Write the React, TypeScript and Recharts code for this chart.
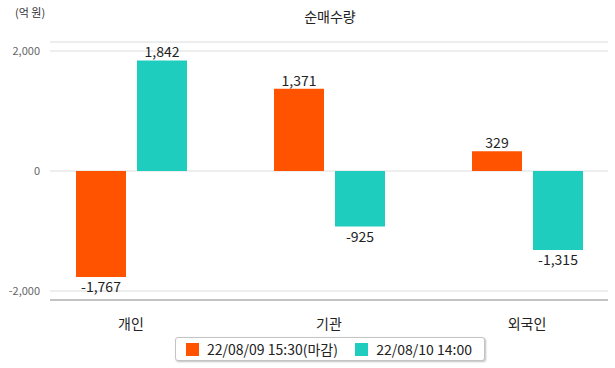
import { Bar, BarChart, CartesianGrid, LabelList, Legend, XAxis, YAxis } from "recharts";

const categories = ["개인", "기관", "외국인"];
const closeValues = [-1767, 1371, 329];
const liveValues = [1842, -925, -1315];
const seriesNames = ["22/08/09 15:30(마감)", "22/08/10 14:00"];
const yTicks = [-2000, 0, 2000];

const ORANGE = "#FF5300";
const TEAL = "#1ECDBD";
const FONT = "'Noto Sans CJK KR', 'Noto Sans', sans-serif";

const data = categories.map((name, i) => ({
  name,
  close: closeValues[i],
  live: liveValues[i],
}));

const fmt = (v: number) => v.toLocaleString("en-US");

function ValueLabel(props: any) {
  const { x, y, width, height, value } = props;
  const top = Math.min(y, y + height);
  const bottom = Math.max(y, y + height);
  const cx = x + width / 2;
  const ty = value >= 0 ? top - 3 : bottom + 15;
  return (
    <text x={cx} y={ty} textAnchor="middle" fontSize={14} fill="#222" fontFamily={FONT}>
      {fmt(value)}
    </text>
  );
}

function LegendBox() {
  const colors = [ORANGE, TEAL];
  return (
    <div
      style={{
        display: "flex",
        alignItems: "center",
        justifyContent: "space-between",
        width: 310,
        height: 24,
        boxSizing: "border-box",
        border: "1px solid #c4c4c4",
        borderRadius: 3,
        boxShadow: "1px 1px 2px rgba(0,0,0,0.25)",
        padding: "0 12px 0 10px",
        fontFamily: FONT,
        fontSize: 14,
        color: "#222",
        background: "#fff",
        whiteSpace: "nowrap",
      }}
    >
      {seriesNames.map((n, i) => (
        <div key={n} style={{ display: "flex", alignItems: "center" }}>
          <span style={{ width: 13, height: 13, background: colors[i], marginRight: 8, display: "inline-block" }} />
          <span>{n}</span>
        </div>
      ))}
    </div>
  );
}

export default function App() {
  return (
    <div style={{ position: "absolute", left: 0, top: 0, width: 615, height: 368, background: "#fff", fontFamily: FONT }}>
      <div style={{ position: "absolute", left: 15, top: 4, fontSize: 11, color: "#333" }}>(억 원)</div>
      <div style={{ position: "absolute", left: 0, width: 660, top: 6, textAlign: "center", fontSize: 14, color: "#222" }}>
        순매수량
      </div>
      <BarChart
        width={615}
        height={368}
        data={data}
        margin={{ top: 42, right: 7, left: 0, bottom: 7 }}
        barSize={50}
        barGap={11}
      >
        <CartesianGrid horizontal vertical={false} stroke="#dcdcdc" />
        <XAxis
          dataKey="name"
          tickLine={false}
          tickSize={0}
          tickMargin={19}
          height={37}
          padding={{ left: -18, right: -18 }}
          axisLine={{ stroke: "#999" }}
          tick={{ fill: "#222", fontSize: 14, fontFamily: FONT }}
        />
        <YAxis
          width={50}
          domain={[-2150, 2150]}
          ticks={yTicks}
          tickFormatter={fmt}
          axisLine={false}
          tickLine={false}
          tickSize={0}
          tickMargin={10}
          tick={{ fill: "#666", fontSize: 11, fontFamily: FONT }}
        />
        <Legend
          verticalAlign="bottom"
          content={<LegendBox />}
          wrapperStyle={{ left: 175, width: 310, height: 24, bottom: 7 }}
        />
        <Bar dataKey="close" name={seriesNames[0]} fill={ORANGE} isAnimationActive={false}>
          <LabelList dataKey="close" content={<ValueLabel />} />
        </Bar>
        <Bar dataKey="live" name={seriesNames[1]} fill={TEAL} isAnimationActive={false}>
          <LabelList dataKey="live" content={<ValueLabel />} />
        </Bar>
      </BarChart>
    </div>
  );
}
